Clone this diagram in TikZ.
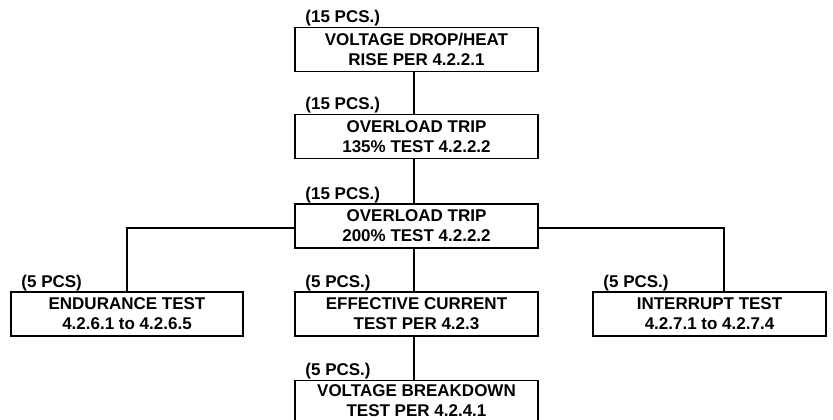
\documentclass[tikz,border=0pt]{standalone}
\usepackage{fontspec}
\setmainfont{Liberation Sans}
\begin{document}
\begin{tikzpicture}[x=1pt,y=1pt,
  testbox/.style={draw, line width=1.5pt, minimum height=44pt, inner sep=0pt,
    align=center, font=\fontsize{17}{20}\selectfont\bfseries},
  pcs/.style={anchor=base west, inner sep=0pt, font=\fontsize{17}{20}\selectfont\bfseries},
  conn/.style={line width=1.5pt}]
\useasboundingbox (0,0) rectangle (833,-420);
\node[testbox, minimum width=243pt] (b1) at (416.5,-49.5) {VOLTAGE DROP/HEAT\\RISE PER 4.2.2.1};
\node[testbox, minimum width=243pt] (b2) at (416.5,-136.5) {OVERLOAD TRIP\\135\% TEST 4.2.2.2};
\node[testbox, minimum width=243pt] (b3) at (416.5,-226) {OVERLOAD TRIP\\200\% TEST 4.2.2.2};
\node[testbox, minimum width=232pt] (b4) at (127,-314) {ENDURANCE TEST\\4.2.6.1 to 4.2.6.5};
\node[testbox, minimum width=243pt] (b5) at (416.5,-314) {EFFECTIVE CURRENT\\TEST PER 4.2.3};
\node[testbox, minimum width=233pt] (b6) at (709.5,-314) {INTERRUPT TEST\\4.2.7.1 to 4.2.7.4};
\node[testbox, minimum width=243pt, minimum height=46pt, text depth=6pt] (b7) at (416.5,-403.5) {VOLTAGE BREAKDOWN\\TEST PER 4.2.4.1};
\node[pcs] (l1) at ([xshift=11pt,yshift=4pt]b1.north west) {(15 PCS.)};
\node[pcs] (l2) at ([xshift=11pt,yshift=4pt]b2.north west) {(15 PCS.)};
\node[pcs] (l3) at ([xshift=11pt,yshift=4pt]b3.north west) {(15 PCS.)};
\node[pcs] (l4) at ([xshift=11pt,yshift=4pt]b4.north west) {(5 PCS)};
\node[pcs] (l5) at ([xshift=11pt,yshift=4pt]b5.north west) {(5 PCS.)};
\node[pcs] (l6) at ([xshift=11pt,yshift=4pt]b6.north west) {(5 PCS.)};
\node[pcs] (l7) at ([xshift=11pt,yshift=4pt]b7.north west) {(5 PCS.)};
\draw[conn] ([xshift=-2.5pt]b1.south) -- ([xshift=-2.5pt]b2.north);
\draw[conn] ([xshift=-2.5pt]b2.south) -- ([xshift=-2.5pt]b3.north);
\draw[conn] ([xshift=-2.5pt]b3.south) -- ([xshift=-2.5pt]b5.north);
\draw[conn] ([xshift=-2.5pt]b5.south) -- ([xshift=-2.5pt]b7.north);
\coordinate (lb) at (127,-228);
\coordinate (rb) at (724,-228);
\draw[conn] (b3.west |- lb) -- (lb) -- (lb |- b4.north);
\draw[conn] (b3.east |- rb) -- (rb) -- (rb |- b6.north);
\end{tikzpicture}
\end{document}
